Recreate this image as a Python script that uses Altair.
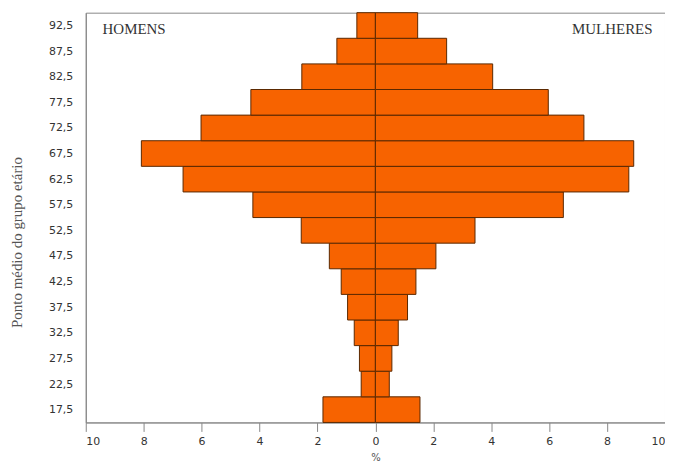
import altair as alt
import pandas as pd

ages = [17.5, 22.5, 27.5, 32.5, 37.5, 42.5, 47.5, 52.5, 57.5, 62.5, 67.5, 72.5, 77.5, 82.5, 87.5, 92.5]
homens = [1.81, 0.49, 0.55, 0.73, 0.96, 1.18, 1.59, 2.56, 4.23, 6.64, 8.08, 6.02, 4.30, 2.54, 1.33, 0.64]
mulheres = [1.54, 0.48, 0.57, 0.79, 1.11, 1.40, 2.09, 3.44, 6.49, 8.75, 8.92, 7.20, 5.97, 4.05, 2.46, 1.46]

rows = []
for a, h, m in zip(ages, homens, mulheres):
    rows.append({"age": a, "lo": a - 2.5, "hi": a + 2.5, "v": -h, "zero": 0, "sexo": "Homens"})
    rows.append({"age": a, "lo": a - 2.5, "hi": a + 2.5, "v": m, "zero": 0, "sexo": "Mulheres"})
df = pd.DataFrame(rows)

label_txt = ["HOMENS", "MULHERES"]
label_x = [-9.42, 9.57]
label_y = [91.8, 91.8]
labels = pd.DataFrame({"txt": label_txt, "x": label_x, "y": label_y})

x_ticks = [-10, -8, -6, -4, -2, 0, 2, 4, 6, 8, 10]

xscale = alt.Scale(domain=[-10, 10], nice=False)
yscale = alt.Scale(domain=[15, 95], nice=False)

xaxis = alt.Axis(values=x_ticks, labelExpr="abs(datum.value)", title="%",
                 grid=False, domainColor="#888", tickColor="#888", tickSize=9,
                 labelFont="DejaVu Sans", labelFontSize=11, labelColor="#333",
                 labelPadding=4, labelOverlap=False,
                 titleFont="DejaVu Sans", titleFontSize=10,
                 titleFontWeight="normal", titleColor="#555", titlePadding=6)
yaxis = alt.Axis(values=ages, labelExpr="replace(format(datum.value, '.1f'), '.', ',')",
                 title="Ponto médio do grupo etário", grid=False, ticks=False,
                 domainColor="#888", labelFont="DejaVu Sans", labelFontSize=11,
                 labelColor="#333", labelPadding=13, labelOverlap=False,
                 titleFont="Liberation Serif",
                 titleFontSize=15, titleFontWeight="normal", titleColor="#555",
                 titleAngle=-90, titleX=-64, titleY=230, titleAlign="center",
                 titleBaseline="alphabetic")

bars = alt.Chart(df).mark_bar(color="#F76300", stroke="#5a2800", strokeWidth=1).encode(
    x=alt.X("v:Q", scale=xscale, axis=xaxis),
    x2=alt.X2("zero:Q"),
    y=alt.Y("lo:Q", scale=yscale, axis=yaxis),
    y2="hi:Q",
)

t_left = alt.Chart(labels.iloc[[0]]).mark_text(font="Liberation Serif", fontSize=15, color="#333", align="left").encode(
    x=alt.X("x:Q", scale=xscale, axis=xaxis), y=alt.Y("y:Q", scale=yscale, axis=yaxis), text="txt:N")
t_right = alt.Chart(labels.iloc[[1]]).mark_text(font="Liberation Serif", fontSize=15, color="#333", align="right").encode(
    x=alt.X("x:Q", scale=xscale, axis=xaxis), y=alt.Y("y:Q", scale=yscale, axis=yaxis), text="txt:N")

chart = alt.layer(bars, t_left, t_right).properties(
    width=581, height=411,
    padding={"left": 78, "top": 4, "right": 0, "bottom": 43},
    autosize=alt.AutoSizeParams(type="none"),
    background="white",
).configure_view(stroke="#888", strokeWidth=1).configure_axis(labelOverlap=False)

chart.save("out.html", embed_options={"renderer": "svg", "actions": False})
